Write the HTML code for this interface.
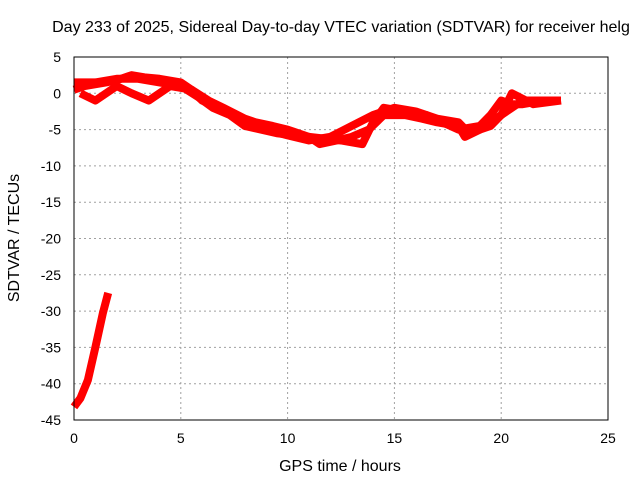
<!DOCTYPE html>
<html><head><meta charset="utf-8"><style>
body{margin:0;background:#fff}
svg{display:block;font-family:"Liberation Sans",sans-serif;font-size:14px}
</style></head><body>
<svg id="c" width="640" height="480">
<text x="341" y="32" text-anchor="middle" style="font-size:16px">Day 233 of 2025, Sidereal Day-to-day VTEC variation (SDTVAR) for receiver helg</text>
<g id="grid"></g>
<g id="ticks"></g>
<g id="series"></g>
<rect x="74" y="57" width="534" height="363" fill="none" stroke="#000" stroke-width="1"/>
<text x="340" y="471" text-anchor="middle" style="font-size:16px">GPS time / hours</text>
<text transform="translate(19,238) rotate(-90)" text-anchor="middle" style="font-size:16px">SDTVAR / TECUs</text>
</svg>
<script>
const xTicks=[0,5,10,15,20,25];
const yTicks=[5,0,-5,-10,-15,-20,-25,-30,-35,-40,-45];
const trackAx=[0,0.5,1.5,2,2.7,3.3,4,5,5.5,6,6.8,7.5,8.3,9,10,11,12,13,14,15,16,17,18,18.5,19,19.5,20,20.5,21,22.8];
const trackAy=[0.5,1,1.5,1.8,2.5,2.2,2,1.5,0.5,-1,-2,-3,-4,-5,-5.8,-6.5,-6,-4.5,-3,-2,-2.5,-3.5,-4,-5.5,-5,-4.5,-3,-2,-1,-1];
const trackBx=[0.3,1,1.5,2,2.7,3.5,4,4.5,5.5,6.3,7,8,8.5,9.3,10,11,11.5,12.3,13,13.8,14.5,15.5,16.3,17,18,18.3,19,19.5,20,20.5,21.5,22.8];
const trackBy=[0,-1,0,1,0,-1,0,1,0.5,-1,-2,-3.5,-4,-4.5,-5,-6,-7,-6.5,-6,-5,-3,-3,-3.5,-4,-4.5,-6,-5,-4,-3,0,-1.5,-1];
const trackCx=[0,1,2,3,4,5,5.8,6.5,7.3,8,9.5,11,12.5,13.5,14,14.5,15.5,16.5,18,19,19.5,20,20.5,21,22];
const trackCy=[1.5,1.5,2,2,1.5,1,-0.5,-2,-3,-4.5,-5.5,-6,-6.5,-7,-4,-2,-2.5,-3,-5,-4.5,-3,-1,-1.5,-1.5,-1];
const trackDx=[0,0.3,0.65,1,1.35,1.6];
const trackDy=[-43.2,-42,-39.5,-35,-30.3,-27.5];
const X=h=>74+h*534/25, Y=v=>57+(5-v)*363/50;
const NS="http://www.w3.org/2000/svg";
function mk(t,a,p){const e=document.createElementNS(NS,t);for(const k in a)e.setAttribute(k,a[k]);p.appendChild(e);return e;}
const g=document.getElementById('grid'),tk=document.getElementById('ticks'),s=document.getElementById('series');
xTicks.forEach(h=>{
 if(h>0&&h<25){const l=mk('line',{x1:X(h),x2:X(h),y1:57,y2:420,stroke:'#a0a0a0','stroke-dasharray':'2,3'},g);
 
 }
 const t=mk('text',{x:X(h),y:443,'text-anchor':'middle'},tk);t.textContent=h;
 
 
});
yTicks.forEach(v=>{
 if(v<5&&v>-45){const l=mk('line',{x1:74,x2:608,y1:Y(v),y2:Y(v),stroke:'#a0a0a0','stroke-dasharray':'2,3'},g);
 
 }
 const t=mk('text',{x:61,y:Y(v)+5,'text-anchor':'end'},tk);t.textContent=v;
 
 
});
[[trackAx,trackAy],[trackBx,trackBy],[trackCx,trackCy],[trackDx,trackDy]].forEach(([xs,ys],i)=>{
 const p=mk('polyline',{points:xs.map((h,j)=>X(h)+','+Y(ys[j])).join(' '),fill:'none',stroke:'#f00','stroke-width':i==3?8:8,'stroke-linejoin':'round','stroke-linecap':'butt'},s);
 
 
});
</script>
</body></html>
